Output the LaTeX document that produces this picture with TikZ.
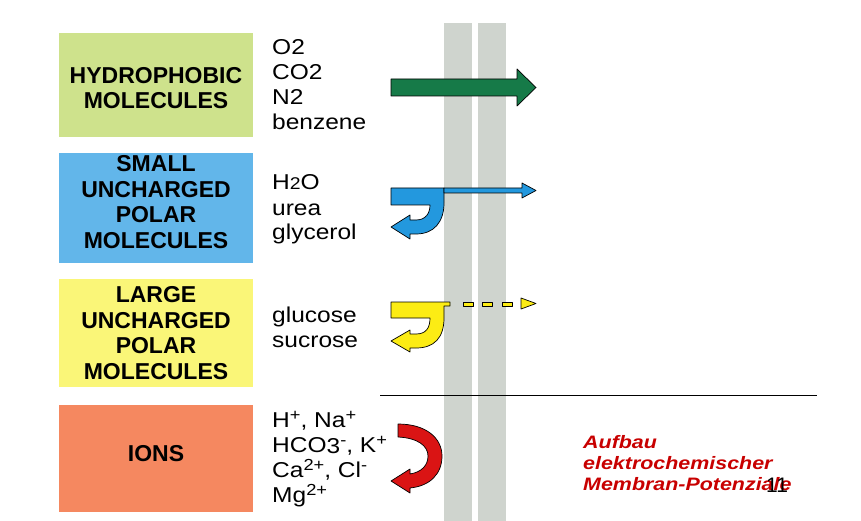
\documentclass[tikz,border=0pt]{standalone}
\usepackage{fontspec}
\setmainfont{Liberation Sans}
\newfontfamily\molfont[FakeStretch=1.14]{Liberation Sans}
\newfontfamily\notefont[FakeStretch=1.19]{Liberation Sans}
\usetikzlibrary{positioning}
\definecolor{leafgreen}{RGB}{206,226,140}
\definecolor{skyblue}{RGB}{98,182,234}
\definecolor{paleyellow}{RGB}{250,246,120}
\definecolor{salmon}{RGB}{245,136,96}
\definecolor{membgrey}{RGB}{207,212,206}
\definecolor{arrgreen}{RGB}{22,122,72}
\definecolor{arrblue}{RGB}{35,152,222}
\definecolor{arryellow}{RGB}{252,236,20}
\definecolor{arrred}{RGB}{218,20,20}
\definecolor{notered}{RGB}{200,0,0}
\newcommand{\ionsup}[1]{\raisebox{6.5pt}{\fontsize{16}{16}\selectfont #1}}

\begin{document}
\begin{tikzpicture}[x=1pt,y=-1pt,
    catbox/.style={minimum width=194,inner sep=0,outer sep=0},
    cattext/.style={align=center,inner sep=0,
      font=\bfseries\fontsize{23}{25.5}\selectfont},
    moltext/.style={anchor=base west,align=left,inner sep=0,
      font=\molfont\fontsize{21.5}{25}\selectfont},
    flux/.style={draw=black,line width=0.7,line join=round}]
  \useasboundingbox (0,0) rectangle (861,521);
  % membrane
  \fill[membgrey] (444,23) rectangle (472,521);
  \fill[membgrey] (478,23) rectangle (506,521);
  % classes of molecules
  \node[catbox,fill=leafgreen,minimum height=104] (hydbox) at (156,85) {};
  \node[cattext] (hydtxt) at (156,88) {HYDROPHOBIC\\MOLECULES};
  \node[catbox,fill=skyblue,minimum height=110] (smallbox) at (156,208) {};
  \node[cattext] (smalltxt) at (156,202) {SMALL\\UNCHARGED\\POLAR\\MOLECULES};
  \node[catbox,fill=paleyellow,minimum height=108] (largebox) at (156,333) {};
  \node[cattext] (largetxt) at (156,333) {LARGE\\UNCHARGED\\POLAR\\MOLECULES};
  \node[catbox,fill=salmon,minimum height=107] (ionbox) at (156,458.5) {};
  \node[cattext] (iontxt) at (156,453.5) {IONS};
  % examples (anchored at the last line)
  \node[moltext] (hydmol) at (272,130) {O2\\CO2\\N2\\benzene};
  \node[moltext] (smallmol) at (272,240)
    {H{\fontsize{17}{17}\selectfont 2}O\\urea\\glycerol};
  \node[moltext] (largemol) at (272,347) {glucose\\sucrose};
  \node[moltext] (ionmol) at (272,502)
    {H\ionsup{+}, Na\ionsup{+}\\
     HCO\raisebox{-1.5pt}{3}\ionsup{-}, K\ionsup{+}\\
     Ca\ionsup{2+}, Cl\ionsup{-}\\
     Mg\ionsup{2+}};
  % hydrophobic: passes
  \filldraw[flux,fill=arrgreen] (391,79) -- (517,79) -- (517,69) -- (536,87.5)
    -- (517,106) -- (517,96) -- (391,96) -- cycle;
  % small polar: mostly back, some through
  \filldraw[flux,fill=arrblue] (391,188) -- (444,188) -- (444,203)
    .. controls (444,222) and (434,234) .. (416,234) -- (410,234) -- (410,239)
    -- (391,227) -- (410,215) -- (410,220) -- (416,220)
    .. controls (426,220) and (430,213) .. (430,205) -- (391,205) -- cycle;
  \filldraw[flux,fill=arrblue] (444,188) -- (522,188) -- (522,183) -- (536,190.5)
    -- (522,198) -- (522,193) -- (444,193) -- cycle;
  % large polar: hardly
  \filldraw[flux,fill=arryellow] (391,302) -- (450,302) -- (450,306) -- (444,306)
    -- (444,318) .. controls (444,338) and (434,348) .. (416,348) -- (410,348)
    -- (410,352) -- (391,341) -- (410,330) -- (410,334) -- (416,334)
    .. controls (426,334) and (430,328) .. (430,318) -- (391,318) -- cycle;
  \foreach \dx in {463,482,502}{
    \filldraw[flux,fill=arryellow] (\dx,302) rectangle ++(10,4);
  }
  \filldraw[flux,fill=arryellow] (521,298) -- (536,303.5) -- (521,309) -- cycle;
  % ions: turned back
  \filldraw[flux,fill=arrred] (398,424) .. controls (426,424) and (442,438) .. (442,456)
    .. controls (442,474) and (430,486) .. (410,488) -- (410,493) -- (391,481)
    -- (410,469) -- (410,474) .. controls (422,472) and (428,465) .. (428,456)
    .. controls (428,446) and (418,438) .. (398,437) -- cycle;
  \draw[line width=0.8] (380,395) -- (817,395);
  \node[anchor=base west,align=left,inner sep=0,text=notered,
    font=\notefont\bfseries\itshape\fontsize{18}{21}\selectfont] (note) at (583,490)
    {Aufbau\\elektrochemischer\\Membran-Potenziale};
  \node[anchor=base west,inner sep=0,font=\fontsize{21}{21}\selectfont] (pagenum)
    at (766,492) {11};
\end{tikzpicture}
\end{document}
